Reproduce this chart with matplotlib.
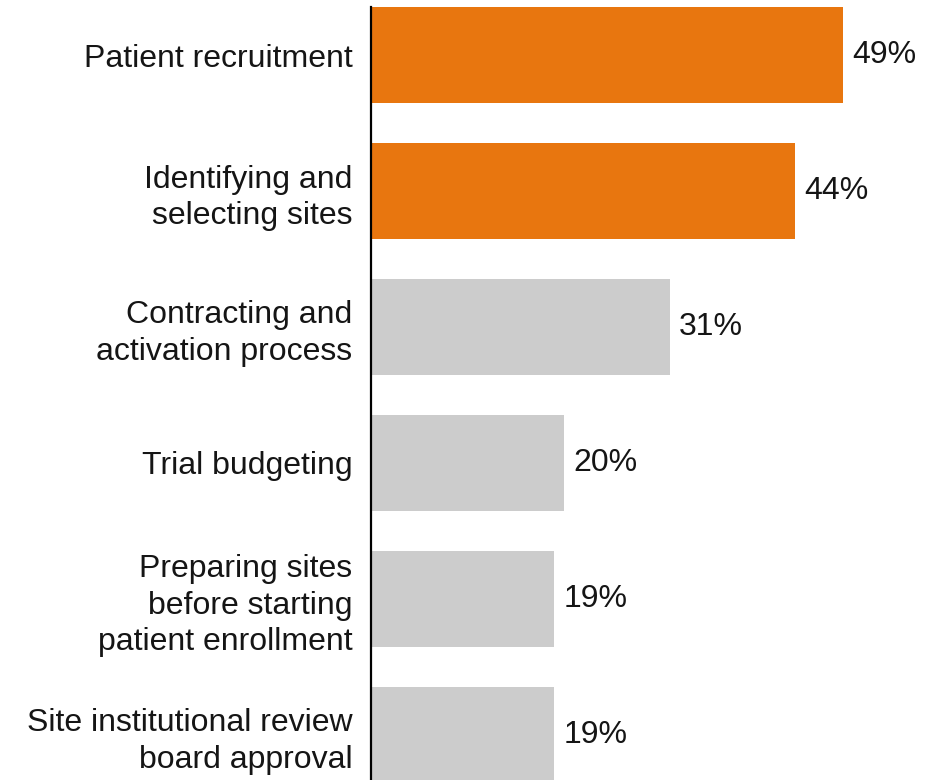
import matplotlib.pyplot as plt

# Data
categories = ['Patient recruitment',
              'Identifying and\nselecting sites',
              'Contracting and\nactivation process',
              'Trial budgeting',
              'Preparing sites\nbefore starting\npatient enrollment',
              'Site institutional review\nboard approval']
values = [49, 44, 31, 20, 19, 19]
highlight = [True, True, False, False, False, False]

orange = '#E8760F'
grey = '#CCCCCC'

plt.rcParams['font.family'] = ['Liberation Sans', 'DejaVu Sans']

fig = plt.figure(figsize=(9.44, 7.80), dpi=100)
ax = fig.add_axes([371 / 944, 0, (944 - 371) / 944, 773 / 780])

colors = [orange if h else grey for h in highlight]
ypos = list(range(len(values)))
ax.barh(ypos, values, height=0.706, color=colors)

for y, v in zip(ypos, values):
    ax.text(v + 1.0, y, f'{v}%', va='center', ha='left', fontsize=23, color='#151515')

ax.set_xlim(0, 59.5)
ax.set_ylim(5.331, -0.353)

ax.set_yticks(ypos)
ax.set_yticklabels(categories, fontsize=23, color='#151515', linespacing=1.28)
ax.tick_params(axis='y', length=0, pad=13.5)
ax.set_xticks([])

for s in ['top', 'right', 'bottom']:
    ax.spines[s].set_visible(False)
ax.spines['left'].set_linewidth(1.6)
ax.spines['left'].set_color('black')

fig.savefig('out.png', dpi=100)
